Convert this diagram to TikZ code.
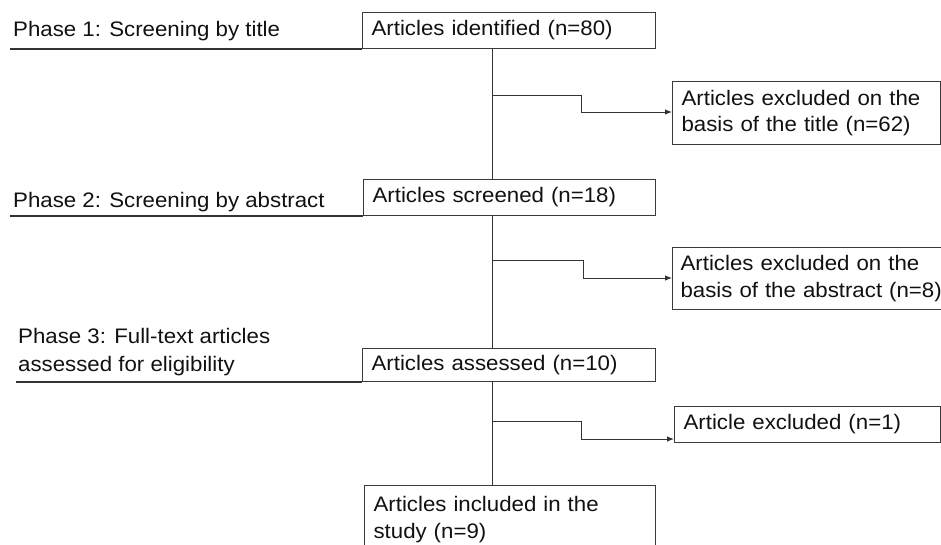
\documentclass[tikz,border=0pt]{standalone}
\usepackage{fontspec}
\setmainfont{Liberation Sans}[FakeStretch=1.06]
\usetikzlibrary{arrows.meta}
\definecolor{boxc}{HTML}{3A3A3A}
\definecolor{linec}{HTML}{333333}
\definecolor{txt}{HTML}{111111}
\begin{document}
\begin{tikzpicture}[x=1pt,y=-1pt,
  box/.style={draw=boxc, line width=1.1pt, anchor=north west, inner xsep=9pt, inner ysep=0pt,
    align=left, font=\fontsize{21}{26.5}\selectfont, text=txt},
  lbl/.style={anchor=base west, inner sep=0pt, align=left, font=\fontsize{21}{27.5}\selectfont, text=txt},
  conn/.style={draw=linec, line width=0.9pt},
  arr/.style={conn, -{Latex[length=7pt,width=5.5pt]}},
  phase/.style={draw=linec, line width=1.3pt}]
\useasboundingbox (0,0) rectangle (941,544);
\clip (0,0) rectangle (941,544);
% main boxes
\node[box, minimum width=293pt, minimum height=36pt, text width=275pt] (b1) at (362,12) {Articles identified (n=80)};
\node[box, minimum width=292pt, minimum height=36pt, text width=274pt] (b2) at (363,179) {Articles screened (n=18)};
\node[box, minimum width=293pt, minimum height=33pt, text width=275pt] (b3) at (362,348) {Articles assessed (n=10)};
\node[box, minimum width=291pt, minimum height=68pt, text width=273pt] (b4) at (364,485) {Articles included in the\\study (n=9)};
% exclusion boxes
\node[box, minimum width=268pt, minimum height=63pt, text width=250pt] (e1) at (672,81) {Articles excluded on the\\basis of the title (n=62)};
\node[box, inner xsep=8pt, minimum width=290pt, minimum height=62pt, text width=274pt] (e2) at (672,247) {Articles excluded on the\\basis of the abstract (n=8)};
\node[box, minimum width=266pt, minimum height=36pt, text width=248pt] (e3) at (674,406) {Article excluded (n=1)};
% phase labels
\node[lbl] (ph1) at (13,36) {Phase 1: Screening by title};
\node[lbl] (ph2) at (13,207) {Phase 2: Screening by abstract};
\node[lbl] (ph3) at (18,371) {Phase 3: Full-text articles\\assessed for eligibility};
% phase lines
\coordinate (pl1) at (10,0);
\coordinate (pl3) at (16,0);
\draw[phase] (pl1 |- b1.south) -- (b1.south west);
\draw[phase] (pl1 |- b2.south) -- (b2.south west);
\draw[phase] (pl3 |- b3.south) -- (b3.south west);
% vertical flow
\coordinate (vx) at (492,0);
\draw[conn] (b1.south -| vx) -- (b2.north -| vx);
\draw[conn] (b2.south -| vx) -- (b3.north -| vx);
\draw[conn] (b3.south -| vx) -- (b4.north -| vx);
% branches
\coordinate (k1a) at (492,95);  \coordinate (k1b) at (581,112);
\coordinate (k2a) at (492,260); \coordinate (k2b) at (583,278);
\coordinate (k3a) at (492,421); \coordinate (k3b) at (581,439);
\draw[arr] (k1a) -| (k1b) -- (k1b -| e1.west);
\draw[arr] (k2a) -| (k2b) -- (k2b -| e2.west);
\draw[arr] (k3a) -| (k3b) -- (k3b -| e3.west);
\end{tikzpicture}
\end{document}
